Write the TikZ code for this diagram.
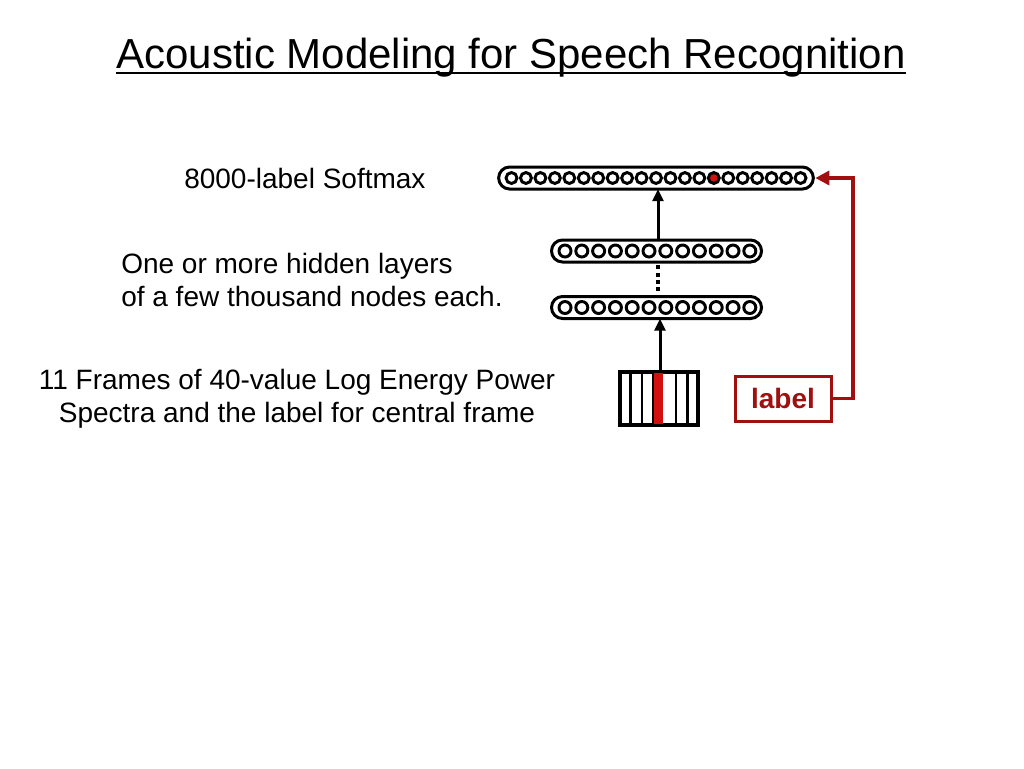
\documentclass[tikz,border=0pt]{standalone}
\usepackage{fontspec}
\setmainfont{Liberation Sans}
\usetikzlibrary{arrows.meta,calc}
\definecolor{darkred}{RGB}{160,16,16}
\definecolor{brightred}{RGB}{210,16,16}
\begin{document}
\begin{tikzpicture}[x=0.75pt,y=-0.75pt,
  layer/.style={draw=black,line width=2.25pt,rounded corners=8.2pt,minimum height=16.5pt,inner sep=0pt,outer sep=0pt},
  unit/.style={draw=black,line width=2.2pt},
  txt/.style={font=\fontsize{21}{24.5}\selectfont,inner sep=0pt},
  arr/.style={line width=2.25pt,-{Triangle[length=9pt,width=8pt]}},
  fb/.style={line width=1.7pt}]
\useasboundingbox (0,0) rectangle (1024,768);
% title
\node[font=\fontsize{31.5}{38}\selectfont,anchor=base,inner sep=0pt] (title) at (511,68) {Acoustic Modeling for Speech Recognition};
\draw[line width=1.5pt] ([yshift=-4pt]title.base west) -- ([yshift=-4pt]title.base east);
% left texts
\node[txt,anchor=base west] (soft) at (184,188) {8000-label Softmax};
\node[txt,anchor=west,align=left] (hid) at (121,280) {One or more hidden layers\\of a few thousand nodes each.};
\node[txt,anchor=center,align=center] (inp) at (297,399) {11 Frames of 40-value Log Energy Power\\Spectra and the label for central frame};
% layers
\node[layer,minimum width=236pt] (top) at (656,178) {};
\foreach \i in {0,...,20} {
  \pgfmathsetmacro{\cx}{511.5+\i*14.45}
  \ifnum\i=14
    \draw[unit,fill=brightred] (\cx,178) circle[radius=4.1pt];
  \else
    \draw[unit] (\cx,178) circle[radius=4.1pt];
  \fi
}
\node[layer,minimum width=157.5pt] (h1) at (656.5,251) {};
\node[layer,minimum width=157.5pt] (h2) at (656.5,307.5) {};
\foreach \i in {0,...,11} {
  \pgfmathsetmacro{\cx}{565+\i*16.8}
  \draw[unit] (\cx,251) circle[radius=4.5pt];
  \draw[unit] (\cx,307.5) circle[radius=4.5pt];
}
% frames
\node[draw=black,line width=2.2pt,minimum width=57.5pt,minimum height=38.5pt,inner sep=0pt] (frames) at (659,398.5) {};
\fill[brightred] (654,373) rectangle (663,424);
\foreach \k in {1,2,3,5,6} {
  \draw[fb] ($(frames.north west)!\k/7!(frames.north east)$) -- ($(frames.south west)!\k/7!(frames.south east)$);
}
\draw[line width=2.2pt] (frames.north west) rectangle (frames.south east);
% label box
\node[draw=darkred,line width=2.25pt,minimum width=72pt,minimum height=33.75pt,inner sep=0pt,text=darkred,font=\fontsize{21}{24.5}\selectfont\bfseries] (lab) at (783,398.5) {label};
% arrows
\coordinate (ax1) at (658,0);
\coordinate (ax2) at (660,0);
\draw[arr] (h1.north -| ax1) -- (top.south -| ax1);
\draw[line width=2.6pt,dash pattern=on 3pt off 2.4pt] ([yshift=-2.5pt]h1.south -| ax1) -- ([yshift=2pt]h2.north -| ax1);
\draw[arr] (frames.north -| ax2) -- (h2.south -| ax2);
\coordinate (bend) at (853,178);
\draw[darkred,line width=2.6pt,-{Triangle[length=10.5pt,width=10.5pt]}] (lab.east) -| (bend) -- ([xshift=1.5pt]top.east);
\end{tikzpicture}
\end{document}
